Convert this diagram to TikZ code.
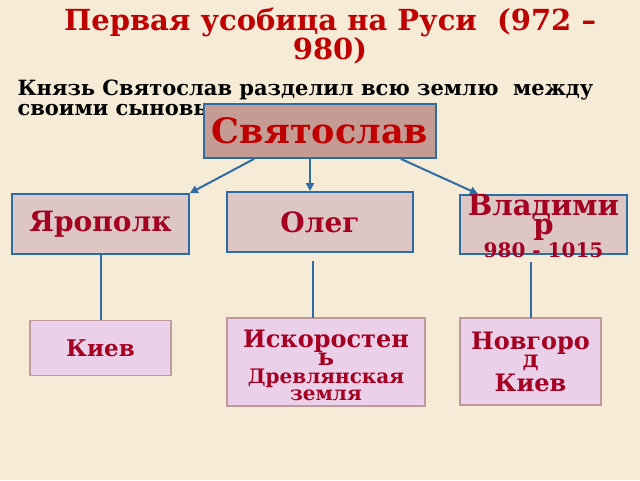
\documentclass[tikz,border=0pt]{standalone}
\usepackage{fontspec}
\setmainfont{DejaVu Serif}
\usetikzlibrary{arrows.meta}
\definecolor{bg}{HTML}{F6EBD6}
\definecolor{bl}{HTML}{2E6DA4}
\definecolor{dr}{HTML}{A50021}
\definecolor{rr}{HTML}{C00000}
\definecolor{top}{HTML}{C49C94}
\definecolor{mid}{HTML}{DCC7C5}
\definecolor{low}{HTML}{EBD0EA}
\definecolor{lowb}{HTML}{C09A9A}
\newcommand\fsz[1]{\fontsize{#1}{#1}\selectfont}
\tikzset{
 son/.style={draw=bl,line width=1.8pt,fill=mid,text=dr,font=\bfseries,align=center,inner sep=0pt},
 land/.style={draw=lowb,line width=1.8pt,fill=low,text=dr,font=\bfseries,align=center,inner sep=0pt},
 conn/.style={draw=bl,line width=2pt},
 arr/.style={conn,-{Triangle[length=8pt,width=8pt]}}
}
\begin{document}
\begin{tikzpicture}[x=1pt,y=-1pt]
\useasboundingbox (0,0) rectangle (640,480);
\fill[bg] (0,0) rectangle (640,480);
\node[text=rr,font=\bfseries,align=center] (title) at (330,36) {\fsz{29}Первая усобица на Руси~ (972 –\\\fsz{29}980)};
\node[anchor=west,font=\bfseries,align=left] (intro) at (14,98) {\fsz{21}Князь Святослав разделил всю землю~ между\\[3pt]\fsz{21}своими сыновьями};
\node[son,fill=top,text=rr,minimum width=232pt,minimum height=54pt,font=\bfseries\fsz{35}] (s) at (320,131) {Святослав};
\node[son,minimum width=177pt,minimum height=60pt,font=\bfseries\fsz{28}] (ya) at (100.5,224) {Ярополк};
\node[son,minimum width=186pt,minimum height=60pt,font=\bfseries\fsz{28}] (o) at (320,222) {Олег};
\node[son,minimum width=167pt,minimum height=59pt] (v) at (543.5,224.5) {};
\node[text=dr,font=\bfseries,align=center] (vt) at (543.5,226) {\fsz{29}Владими\\[-2pt]\fsz{29}р\\[1pt]\fsz{20}980 - 1015};
\node[land,minimum width=141pt,minimum height=55pt,font=\bfseries\fsz{23}] (k) at (100.5,348) {Киев};
\node[land,minimum width=198pt,minimum height=88pt] (i) at (326,362) {};
\node[text=dr,font=\bfseries,align=center] (it) at (326,365) {\fsz{24}Искоростен\\\fsz{24}ь\\[2pt]\fsz{20}Древлянская\\[1pt]\fsz{20}земля};
\node[land,minimum width=141pt,minimum height=87pt] (n) at (530.5,361.5) {};
\node[text=dr,font=\bfseries,align=center] (nt) at (530.5,362) {\fsz{24}Новгоро\\\fsz{24}д\\[2pt]\fsz{24}Киев};
\draw[arr] ([xshift=51pt]s.south west) -- (ya.north east);
\draw[arr] ([xshift=-10pt]s.south) -- ([xshift=-10pt]o.north);
\draw[arr] ([xshift=-36pt]s.south east) -- (478,194);
\draw[conn] (ya.south) -- (k.north);
\draw[conn] (313,261) -- (313,318);
\draw[conn] (531,262) -- (531,318);
\end{tikzpicture}
\end{document}
